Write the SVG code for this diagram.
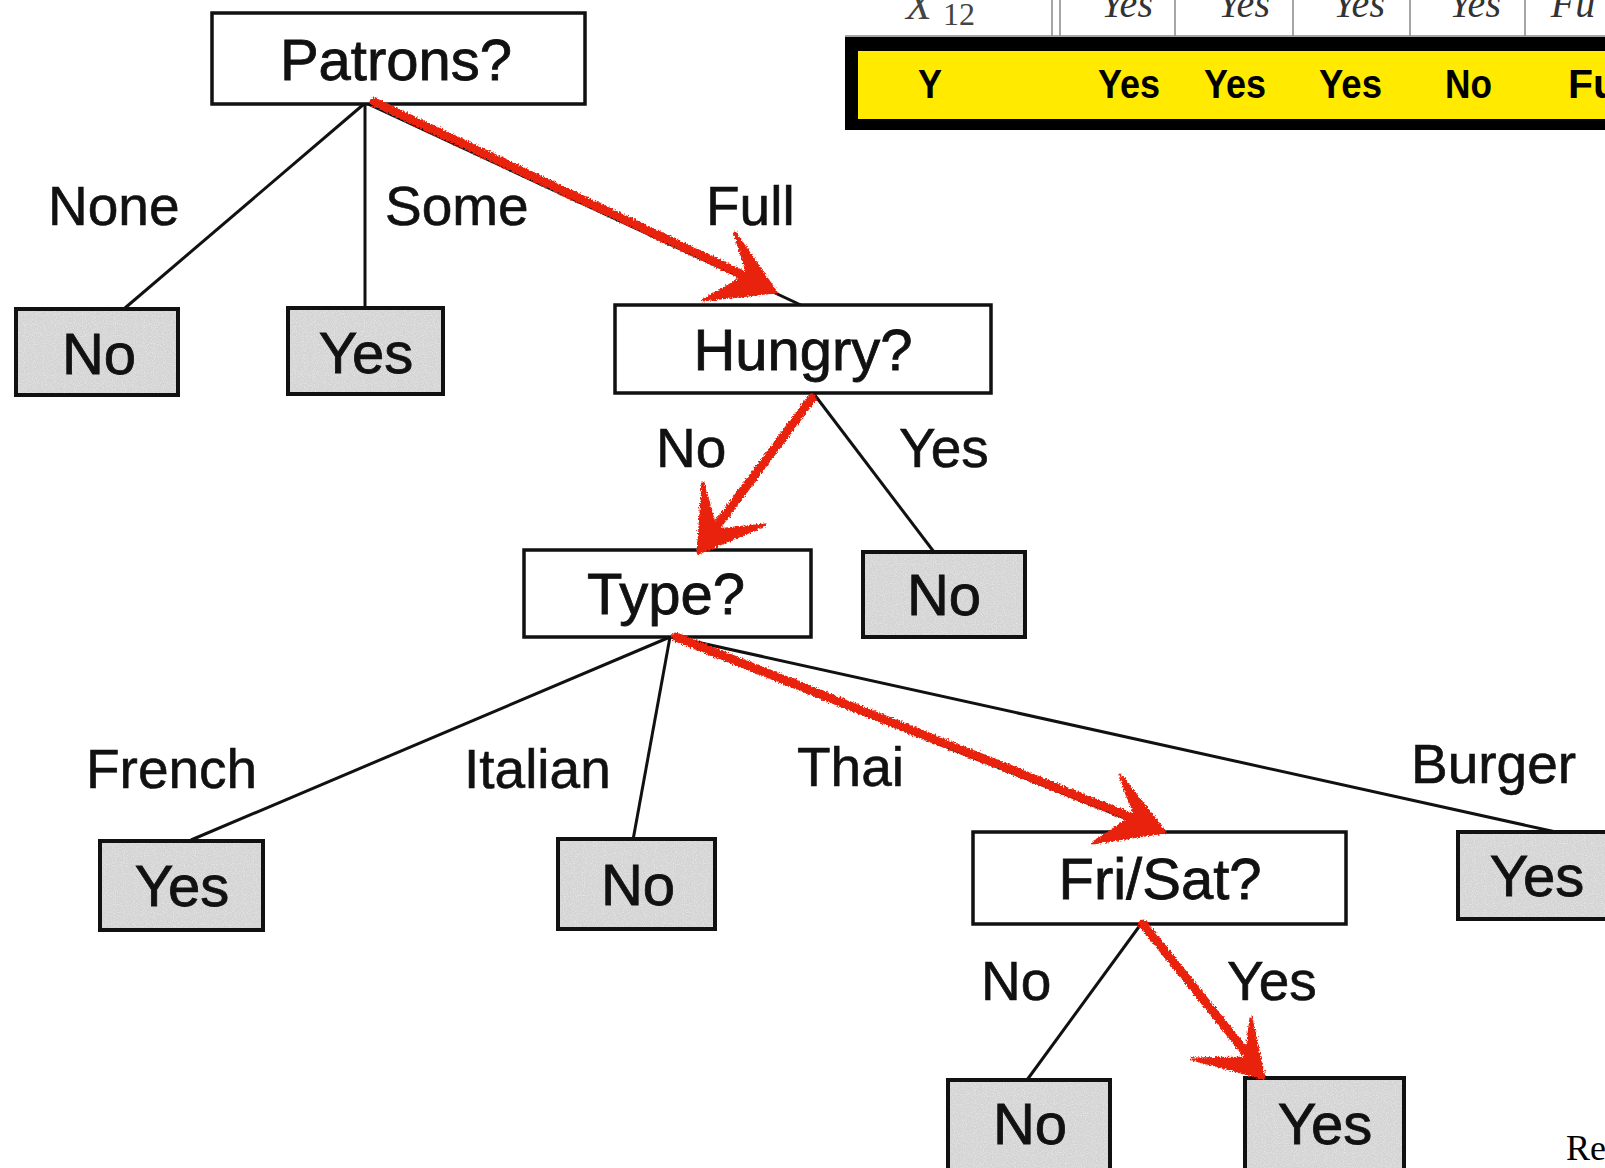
<svg xmlns="http://www.w3.org/2000/svg" width="1605" height="1168" viewBox="0 0 1605 1168">
<style>
.dec{fill:#fff;stroke:#111;stroke-width:3.5}
.leafbg{fill:#d4d4d4}
.leafbd{fill:none;stroke:#111;stroke-width:4}
.nt{font-family:"Liberation Sans",Arial,sans-serif;font-size:58px;fill:#111;stroke:#111;stroke-width:0.8;text-anchor:middle}
.lb{font-family:"Liberation Sans",Arial,sans-serif;font-size:55px;fill:#111;stroke:#111;stroke-width:0.6}
.edge{stroke:#111;stroke-width:3;fill:none}
.red{stroke:#e8230f;stroke-width:9;fill:none;stroke-linecap:round}
.redh{fill:#e8230f;stroke:#e8230f;stroke-width:3;stroke-linejoin:round}
.tab{font-family:"Liberation Serif","Times New Roman",serif;font-style:italic;font-size:40px;fill:#333;text-anchor:middle}
.yb{font-family:"Liberation Sans",Arial,sans-serif;font-weight:bold;font-size:40px;fill:#000}
.grid{stroke:#888;stroke-width:1.5}
</style>
<defs>
<filter id="rough" x="-10%" y="-10%" width="120%" height="120%">
<feTurbulence type="fractalNoise" baseFrequency="0.6" numOctaves="2" seed="3" result="n"/>
<feDisplacementMap in="SourceGraphic" in2="n" scale="5" xChannelSelector="R" yChannelSelector="G"/>
</filter>
<filter id="speckle" x="0" y="0" width="100%" height="100%">
<feTurbulence type="fractalNoise" baseFrequency="0.9" numOctaves="1" seed="5" result="n"/>
<feColorMatrix in="n" type="matrix" values="0 0 0 0 1  0 0 0 0 1  0 0 0 0 1  0 0 0 1.2 -0.55" result="w"/>
<feComposite in="w" in2="SourceGraphic" operator="atop"/>
</filter>
</defs>

<g id="table">
<line class="grid" x1="845" y1="36" x2="1605" y2="36"/>
<line class="grid" x1="1052" y1="0" x2="1052" y2="36"/>
<line class="grid" x1="1060" y1="0" x2="1060" y2="36"/>
<line class="grid" x1="1175" y1="0" x2="1175" y2="36"/>
<line class="grid" x1="1293" y1="0" x2="1293" y2="36"/>
<line class="grid" x1="1410" y1="0" x2="1410" y2="36"/>
<line class="grid" x1="1525" y1="0" x2="1525" y2="36"/>
<text x="906" y="19" font-family="'Liberation Serif','Times New Roman',serif" font-style="italic" font-size="42" fill="#444">X</text>
<text x="943" y="25" font-family="'Liberation Serif','Times New Roman',serif" font-size="32" fill="#444">12</text>
<text class="tab" x="1127" y="17">Yes</text>
<text class="tab" x="1244" y="17">Yes</text>
<text class="tab" x="1359" y="17">Yes</text>
<text class="tab" x="1475" y="17">Yes</text>
<text class="tab" x="1573" y="17" text-anchor="start">Fu</text>
<rect x="845" y="37" width="780" height="93" fill="#000"/>
<rect x="858" y="51" width="760" height="68" fill="#ffea00"/>
<text class="yb" x="918" y="98" textLength="24" lengthAdjust="spacingAndGlyphs">Y</text>
<text class="yb" x="1098" y="98" textLength="62" lengthAdjust="spacingAndGlyphs">Yes</text>
<text class="yb" x="1204" y="98" textLength="62" lengthAdjust="spacingAndGlyphs">Yes</text>
<text class="yb" x="1319" y="98" textLength="63" lengthAdjust="spacingAndGlyphs">Yes</text>
<text class="yb" x="1445" y="98" textLength="47" lengthAdjust="spacingAndGlyphs">No</text>
<text class="yb" x="1568" y="98" textLength="50" lengthAdjust="spacingAndGlyphs">Fu</text>
</g>

<g id="connectors">
<line class="edge" x1="364" y1="104" x2="125" y2="308"/>
<line class="edge" x1="365" y1="104" x2="365" y2="308"/>
<line class="edge" x1="368" y1="104" x2="803" y2="306"/>
<line class="edge" x1="814" y1="394" x2="698" y2="551"/>
<line class="edge" x1="814" y1="394" x2="934" y2="552"/>
<line class="edge" x1="670" y1="637" x2="191" y2="840"/>
<line class="edge" x1="670" y1="637" x2="633" y2="840"/>
<line class="edge" x1="672" y1="637" x2="1160" y2="832"/>
<line class="edge" x1="674" y1="637" x2="1556" y2="832"/>
<line class="edge" x1="1141" y1="924" x2="1027" y2="1080"/>
<line class="edge" x1="1141" y1="924" x2="1266" y2="1079"/>
<g id="edge-labels">
<text class="lb" x="48" y="225">None</text>
<text class="lb" x="385" y="225">Some</text>
<text class="lb" x="706" y="225">Full</text>
<text class="lb" x="656" y="467">No</text>
<text class="lb" x="899" y="467">Yes</text>
<text class="lb" x="86" y="788">French</text>
<text class="lb" x="464" y="788">Italian</text>
<text class="lb" x="797" y="786">Thai</text>
<text class="lb" x="1411" y="783">Burger</text>
<text class="lb" x="981" y="1000">No</text>
<text class="lb" x="1227" y="1000">Yes</text>
</g>
</g>

<g id="nodes">
<g id="patrons"><rect class="dec" x="212" y="13" width="373" height="91"/><text class="nt" x="396" y="80">Patrons?</text></g>
<g id="leaf-none-no"><rect class="leafbg" filter="url(#speckle)" x="16" y="309" width="162" height="86"/><rect class="leafbd" x="16" y="309" width="162" height="86"/><text class="nt" x="99" y="374">No</text></g>
<g id="leaf-some-yes"><rect class="leafbg" filter="url(#speckle)" x="288" y="308" width="155" height="86"/><rect class="leafbd" x="288" y="308" width="155" height="86"/><text class="nt" x="366" y="373">Yes</text></g>
<g id="hungry"><rect class="dec" x="615" y="305" width="376" height="88"/><text class="nt" x="803" y="370">Hungry?</text></g>
<g id="type"><rect class="dec" x="524" y="550" width="287" height="87"/><text class="nt" x="666" y="614">Type?</text></g>
<g id="leaf-hungry-no"><rect class="leafbg" filter="url(#speckle)" x="863" y="552" width="162" height="85"/><rect class="leafbd" x="863" y="552" width="162" height="85"/><text class="nt" x="944" y="615">No</text></g>
<g id="leaf-french-yes"><rect class="leafbg" filter="url(#speckle)" x="100" y="841" width="163" height="89"/><rect class="leafbd" x="100" y="841" width="163" height="89"/><text class="nt" x="182" y="906">Yes</text></g>
<g id="leaf-italian-no"><rect class="leafbg" filter="url(#speckle)" x="558" y="839" width="157" height="90"/><rect class="leafbd" x="558" y="839" width="157" height="90"/><text class="nt" x="638" y="905">No</text></g>
<g id="frisat"><rect class="dec" x="973" y="832" width="373" height="92"/><text class="nt" x="1160" y="899">Fri/Sat?</text></g>
<g id="leaf-burger-yes"><rect class="leafbg" filter="url(#speckle)" x="1458" y="832" width="170" height="87"/><rect class="leafbd" x="1458" y="832" width="170" height="87"/><text class="nt" x="1537" y="896">Yes</text></g>
<g id="leaf-frisat-no"><rect class="leafbg" filter="url(#speckle)" x="948" y="1080" width="162" height="100"/><rect class="leafbd" x="948" y="1080" width="162" height="100"/><text class="nt" x="1030" y="1144">No</text></g>
<g id="leaf-frisat-yes"><rect class="leafbg" filter="url(#speckle)" x="1245" y="1078" width="159" height="100"/><rect class="leafbd" x="1245" y="1078" width="159" height="100"/><text class="nt" x="1325" y="1144">Yes</text></g>
</g>

<g id="path-arrows" filter="url(#rough)">
<line class="red" x1="374" y1="102" x2="760" y2="283"/>
<polygon class="redh" points="776,292 735,233 748,275 703,300"/>
<line class="red" x1="812" y1="398" x2="710" y2="535"/>
<polygon class="redh" points="698,553 703,483 716,530 765,525"/>
<line class="red" x1="676" y1="637" x2="1148" y2="824"/>
<polygon class="redh" points="1165,832 1120,775 1135,815 1093,843"/>
<line class="red" x1="1143" y1="924" x2="1255" y2="1064"/>
<polygon class="redh" points="1264,1078 1251,1018 1246,1058 1192,1059"/>
</g>

<text x="1566" y="1160" font-family="'Liberation Serif','Times New Roman',serif" font-size="36" fill="#000">Re</text>
</svg>
